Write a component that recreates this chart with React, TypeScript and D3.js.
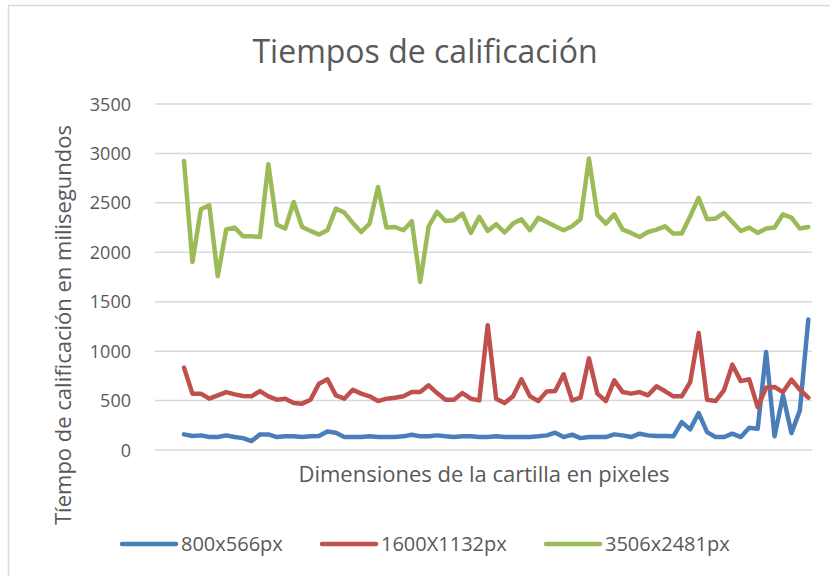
import { useRef, useEffect } from 'react';
import * as d3 from 'd3';

// Tiempos en milisegundos, 75 cartillas por resolución
const small800 = [
  158, 141, 148, 131, 131, 148, 131, 120, 90, 158, 158, 131, 138, 138, 131, 138, 141, 188, 175, 131,
  131, 131, 138, 131, 131, 131, 138, 155, 138, 138, 148, 138, 131, 138, 138, 131, 131, 138, 131, 131,
  131, 131, 138, 148, 175, 131, 155, 120, 131, 131, 131, 158, 148, 131, 165, 148, 141, 141, 138, 282,
  209, 374, 181, 131, 131, 165, 131, 226, 216, 991, 138, 553, 171, 401, 1319,
];
const medium1600 = [
  833, 570, 570, 519, 553, 586, 563, 546, 543, 596, 543, 509, 519, 475, 469, 509, 671, 715, 553, 519,
  610, 570, 543, 495, 519, 529, 543, 586, 586, 654, 576, 509, 509, 576, 519, 502, 1261, 519, 475, 543,
  715, 543, 495, 593, 596, 765, 502, 529, 927, 570, 495, 704, 586, 570, 586, 553, 644, 596, 543, 543,
  687, 1183, 509, 495, 603, 863, 697, 715, 434, 630, 637, 586, 711, 610, 529,
];
const large3506 = [
  2924, 1902, 2435, 2476, 1757, 2230, 2250, 2162, 2162, 2155, 2891, 2280, 2240, 2509, 2256, 2216, 2179, 2223, 2442, 2402,
  2297, 2205, 2290, 2661, 2250, 2256, 2223, 2314, 1700, 2263, 2408, 2317, 2324, 2392, 2196, 2358, 2216, 2284, 2200, 2290,
  2334, 2223, 2348, 2307, 2263, 2223, 2263, 2334, 2948, 2380, 2290, 2384, 2230, 2196, 2155, 2205, 2230, 2263, 2189, 2189,
  2364, 2550, 2334, 2341, 2398, 2307, 2216, 2250, 2196, 2240, 2250, 2384, 2351, 2240, 2256,
];
const seriesNames = ['800x566px', '1600X1132px', '3506x2481px'];
const seriesColors = ['#4A7EBB', '#C0504D', '#9BBB59'];
const yTicks = [0, 500, 1000, 1500, 2000, 2500, 3000, 3500];

export default function App() {
  const ref = useRef<SVGSVGElement>(null);

  useEffect(() => {
    if (!ref.current) return;
    const svg = d3.select(ref.current);
    svg.selectAll('*').remove();

    const width = 830;
    const height = 576;
    const font = "'Open Sans', 'Liberation Sans', sans-serif";
    const textColor = '#595959';
    const plot = { left: 155, right: 812, top: 104, bottom: 450 };

    svg.attr('width', width).attr('height', height);

    svg.append('rect')
      .attr('width', width).attr('height', height).attr('fill', '#fff');

    // borde del gráfico (derecha/abajo fuera de la imagen)
    svg.append('rect')
      .attr('x', 8.5).attr('y', 5.5)
      .attr('width', 840).attr('height', 600)
      .attr('fill', 'none').attr('stroke', '#d9d9d9').attr('stroke-width', 1.5);

    const seriesData = [small800, medium1600, large3506];
    const idx = d3.range(small800.length);

    const x = d3.scalePoint<number>()
      .domain(idx)
      .range([184, 808.3]);

    const y = d3.scaleLinear()
      .domain([0, 3500])
      .range([plot.bottom, plot.top]);

    // gridlines
    svg.append('g')
      .selectAll('line')
      .data(yTicks)
      .enter()
      .append('line')
      .attr('x1', plot.left).attr('x2', plot.right)
      .attr('y1', d => y(d)).attr('y2', d => y(d))
      .attr('stroke', '#d9d9d9').attr('stroke-width', 1.5);

    // y tick labels
    svg.append('g')
      .selectAll('text')
      .data(yTicks)
      .enter()
      .append('text')
      .attr('x', 131)
      .attr('y', d => y(d) + 6.5)
      .attr('text-anchor', 'end')
      .attr('font-family', font).attr('font-size', '18px')
      .attr('fill', textColor)
      .text(d => String(d));

    // lines
    const line = d3.line<number>()
      .x((_, i) => x(i)!)
      .y(d => y(d));

    seriesData.forEach((vals, k) => {
      svg.append('path')
        .datum(vals)
        .attr('d', line)
        .attr('fill', 'none')
        .attr('stroke', seriesColors[k])
        .attr('stroke-width', 4.5)
        .attr('stroke-linejoin', 'round')
        .attr('stroke-linecap', 'round');
    });

    // title
    svg.append('text')
      .attr('x', 425).attr('y', 63)
      .attr('text-anchor', 'middle')
      .attr('font-family', font).attr('font-size', '32px')
      .attr('fill', textColor)
      .text('Tiempos de calificación');

    // axis titles
    svg.append('text')
      .attr('x', 484).attr('y', 482)
      .attr('text-anchor', 'middle')
      .attr('font-family', font).attr('font-size', '22px')
      .attr('fill', textColor)
      .text('Dimensiones de la cartilla en pixeles');

    svg.append('text')
      .attr('transform', 'translate(71,325) rotate(-90)')
      .attr('text-anchor', 'middle')
      .attr('font-family', font).attr('font-size', '22px')
      .attr('fill', textColor)
      .text('Tíempo de calificación en milisegundos');

    // legend
    const legendX = [122, 322, 546];
    const legend = svg.append('g');
    seriesNames.forEach((name, k) => {
      legend.append('line')
        .attr('x1', legendX[k]).attr('x2', legendX[k] + 54)
        .attr('y1', 544).attr('y2', 544)
        .attr('stroke', seriesColors[k]).attr('stroke-width', 4.5)
        .attr('stroke-linecap', 'round');
      legend.append('text')
        .attr('x', legendX[k] + 59).attr('y', 551)
        .attr('font-family', font).attr('font-size', '20px')
        .attr('fill', textColor)
        .text(name);
    });
  }, []);

  return <svg ref={ref} style={{ position: 'absolute', left: 0, top: 0 }}></svg>;
}
